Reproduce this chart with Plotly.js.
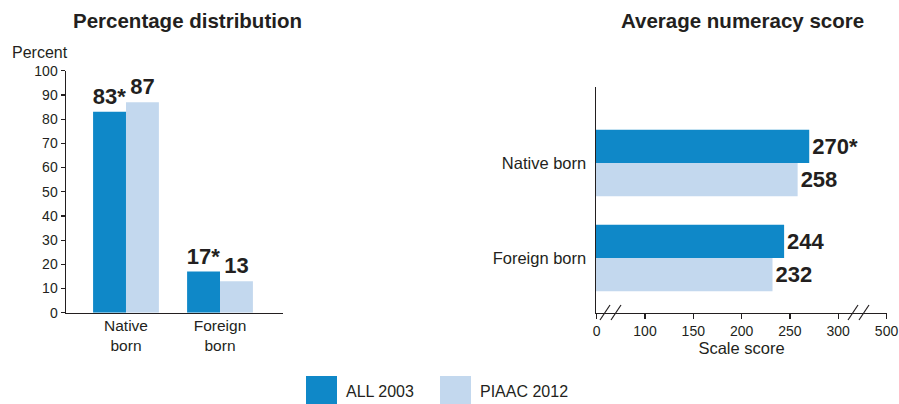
<!DOCTYPE html>
<html>
<head>
<meta charset="utf-8">
<script src="https://cdn.plot.ly/plotly-3.0.1.min.js"></script>
<style>html,body{margin:0;padding:0;background:#fff;}#chart{width:899px;height:404px;}</style>
</head>
<body>
<div id="chart"></div>
<script>
// ---- data ----
var seriesNames = ['ALL 2003', 'PIAAC 2012'];
var groupsLeft = ['Native<br>born', 'Foreign<br>born'];
var groupsRight = ['Native born', 'Foreign born'];
var pctAll2003 = [83, 17];
var pctPiaac2012 = [87, 13];
var pctSigAll2003 = [true, true];
var pctSigPiaac2012 = [false, false];
var scoreAll2003 = [270, 244];
var scorePiaac2012 = [258, 232];
var scoreSigAll2003 = [true, false];
var scoreSigPiaac2012 = [false, false];
var pctTicks = [0, 10, 20, 30, 40, 50, 60, 70, 80, 90, 100];
var scoreTickVals = [50, 100, 150, 200, 250, 300, 350];
var scoreTickText = ['0', '100', '150', '200', '250', '300', '500'];

// ---- styling ----
var W = 899, H = 404;
var C1 = '#0F88C8', C2 = '#C3D8EE', INK = '#231F20';
var FONT = 'Liberation Sans, Arial, Helvetica, sans-serif';
function px(x) { return x / W; }
function py(y) { return 1 - y / H; }
function lab(v, s) { return v.map(function (d, i) { return d + (s[i] ? '*' : ''); }); }
var valFont = {family: FONT, size: 22, color: INK, weight: 'bold'};

var traces = [
  {type: 'bar', name: seriesNames[0], x: groupsLeft, y: pctAll2003, text: lab(pctAll2003, pctSigAll2003),
   textposition: 'outside', textfont: valFont, constraintext: 'none', marker: {color: C1},
   xaxis: 'x', yaxis: 'y', hoverinfo: 'skip'},
  {type: 'bar', name: seriesNames[1], x: groupsLeft, y: pctPiaac2012, text: lab(pctPiaac2012, pctSigPiaac2012),
   textposition: 'outside', textfont: valFont, constraintext: 'none', marker: {color: C2},
   xaxis: 'x', yaxis: 'y', hoverinfo: 'skip'},
  {type: 'bar', orientation: 'h', name: seriesNames[0], y: groupsRight, x: scoreAll2003, text: lab(scoreAll2003, scoreSigAll2003),
   textposition: 'outside', textfont: valFont, constraintext: 'none', marker: {color: C1},
   xaxis: 'x2', yaxis: 'y2', hoverinfo: 'skip'},
  {type: 'bar', orientation: 'h', name: seriesNames[1], y: groupsRight, x: scorePiaac2012, text: lab(scorePiaac2012, scoreSigPiaac2012),
   textposition: 'outside', textfont: valFont, constraintext: 'none', marker: {color: C2},
   xaxis: 'x2', yaxis: 'y2', hoverinfo: 'skip'}
];

var tickFont = {family: FONT, size: 14, color: INK};
var labFont = {family: FONT, size: 16.5, color: INK};

function slash(x0, x1) {
  return {type: 'line', xref: 'paper', yref: 'paper', x0: px(x0), x1: px(x1), y0: py(320), y1: py(305),
          line: {color: INK, width: 1.2}};
}

var layout = {
  width: W, height: H,
  margin: {l: 0, r: 0, t: 0, b: 0},
  paper_bgcolor: '#fff', plot_bgcolor: '#fff',
  showlegend: false,
  barmode: 'group', bargap: 0.3, bargroupgap: 0,
  font: {family: FONT, color: INK},
  xaxis: {domain: [px(66), px(283)], anchor: 'y', type: 'category', range: [-0.638, 1.67],
          showline: true, linecolor: INK, linewidth: 1.5, ticks: '', showgrid: false, zeroline: false,
          tickfont: {family: FONT, size: 15.5, color: INK}, ticklabelstandoff: -2, fixedrange: true},
  yaxis: {domain: [py(312.7), py(70.7)], anchor: 'x', range: [0, 100], tickvals: pctTicks,
          showline: true, linecolor: INK, linewidth: 1.5, ticks: 'outside', ticklen: 4, tickwidth: 1.2, tickcolor: INK,
          showgrid: false, zeroline: false, tickfont: tickFont, fixedrange: true},
  xaxis2: {domain: [px(596), px(887)], anchor: 'y2', range: [49.3, 350.5], tickvals: scoreTickVals, ticktext: scoreTickText,
           showline: true, linecolor: INK, linewidth: 1.5, ticks: 'outside', ticklen: 5, tickwidth: 1.2, tickcolor: INK,
           showgrid: false, zeroline: false, tickfont: tickFont, fixedrange: true,
           title: {text: 'Scale score', font: labFont, standoff: 3}},
  yaxis2: {domain: [py(312.7), py(87)], anchor: 'x2', type: 'category', range: [1.576, -0.8],
           showline: true, linecolor: INK, linewidth: 1.5, ticks: '', showgrid: false, zeroline: false,
           tickfont: labFont, ticklabelstandoff: 5, fixedrange: true},
  annotations: [
    {text: '<b>Percentage distribution</b>', xref: 'paper', yref: 'paper', x: px(187.5), y: py(20),
     xanchor: 'center', yanchor: 'middle', showarrow: false, font: {family: FONT, size: 20.5, color: INK}},
    {text: '<b>Average numeracy score</b>', xref: 'paper', yref: 'paper', x: px(742.5), y: py(20),
     xanchor: 'center', yanchor: 'middle', showarrow: false, font: {family: FONT, size: 20.5, color: INK}},
    {text: 'Percent', xref: 'paper', yref: 'paper', x: px(10), y: py(52),
     xanchor: 'left', yanchor: 'middle', showarrow: false, font: {family: FONT, size: 16, color: INK}},
    {text: seriesNames[0], xref: 'paper', yref: 'paper', x: px(344), y: py(391),
     xanchor: 'left', yanchor: 'middle', showarrow: false, font: {family: FONT, size: 16, color: INK}},
    {text: seriesNames[1], xref: 'paper', yref: 'paper', x: px(478), y: py(391),
     xanchor: 'left', yanchor: 'middle', showarrow: false, font: {family: FONT, size: 16, color: INK}}
  ],
  shapes: [
    {type: 'rect', xref: 'paper', yref: 'paper', x0: px(306), x1: px(337), y0: py(404), y1: py(376),
     fillcolor: C1, line: {width: 0}},
    {type: 'rect', xref: 'paper', yref: 'paper', x0: px(440), x1: px(471), y0: py(404), y1: py(376),
     fillcolor: C2, line: {width: 0}},
    slash(600, 610), slash(611, 621), slash(848, 858), slash(859, 869)
  ]
};

Plotly.newPlot('chart', traces, layout, {displayModeBar: false, staticPlot: true});
</script>
</body>
</html>
